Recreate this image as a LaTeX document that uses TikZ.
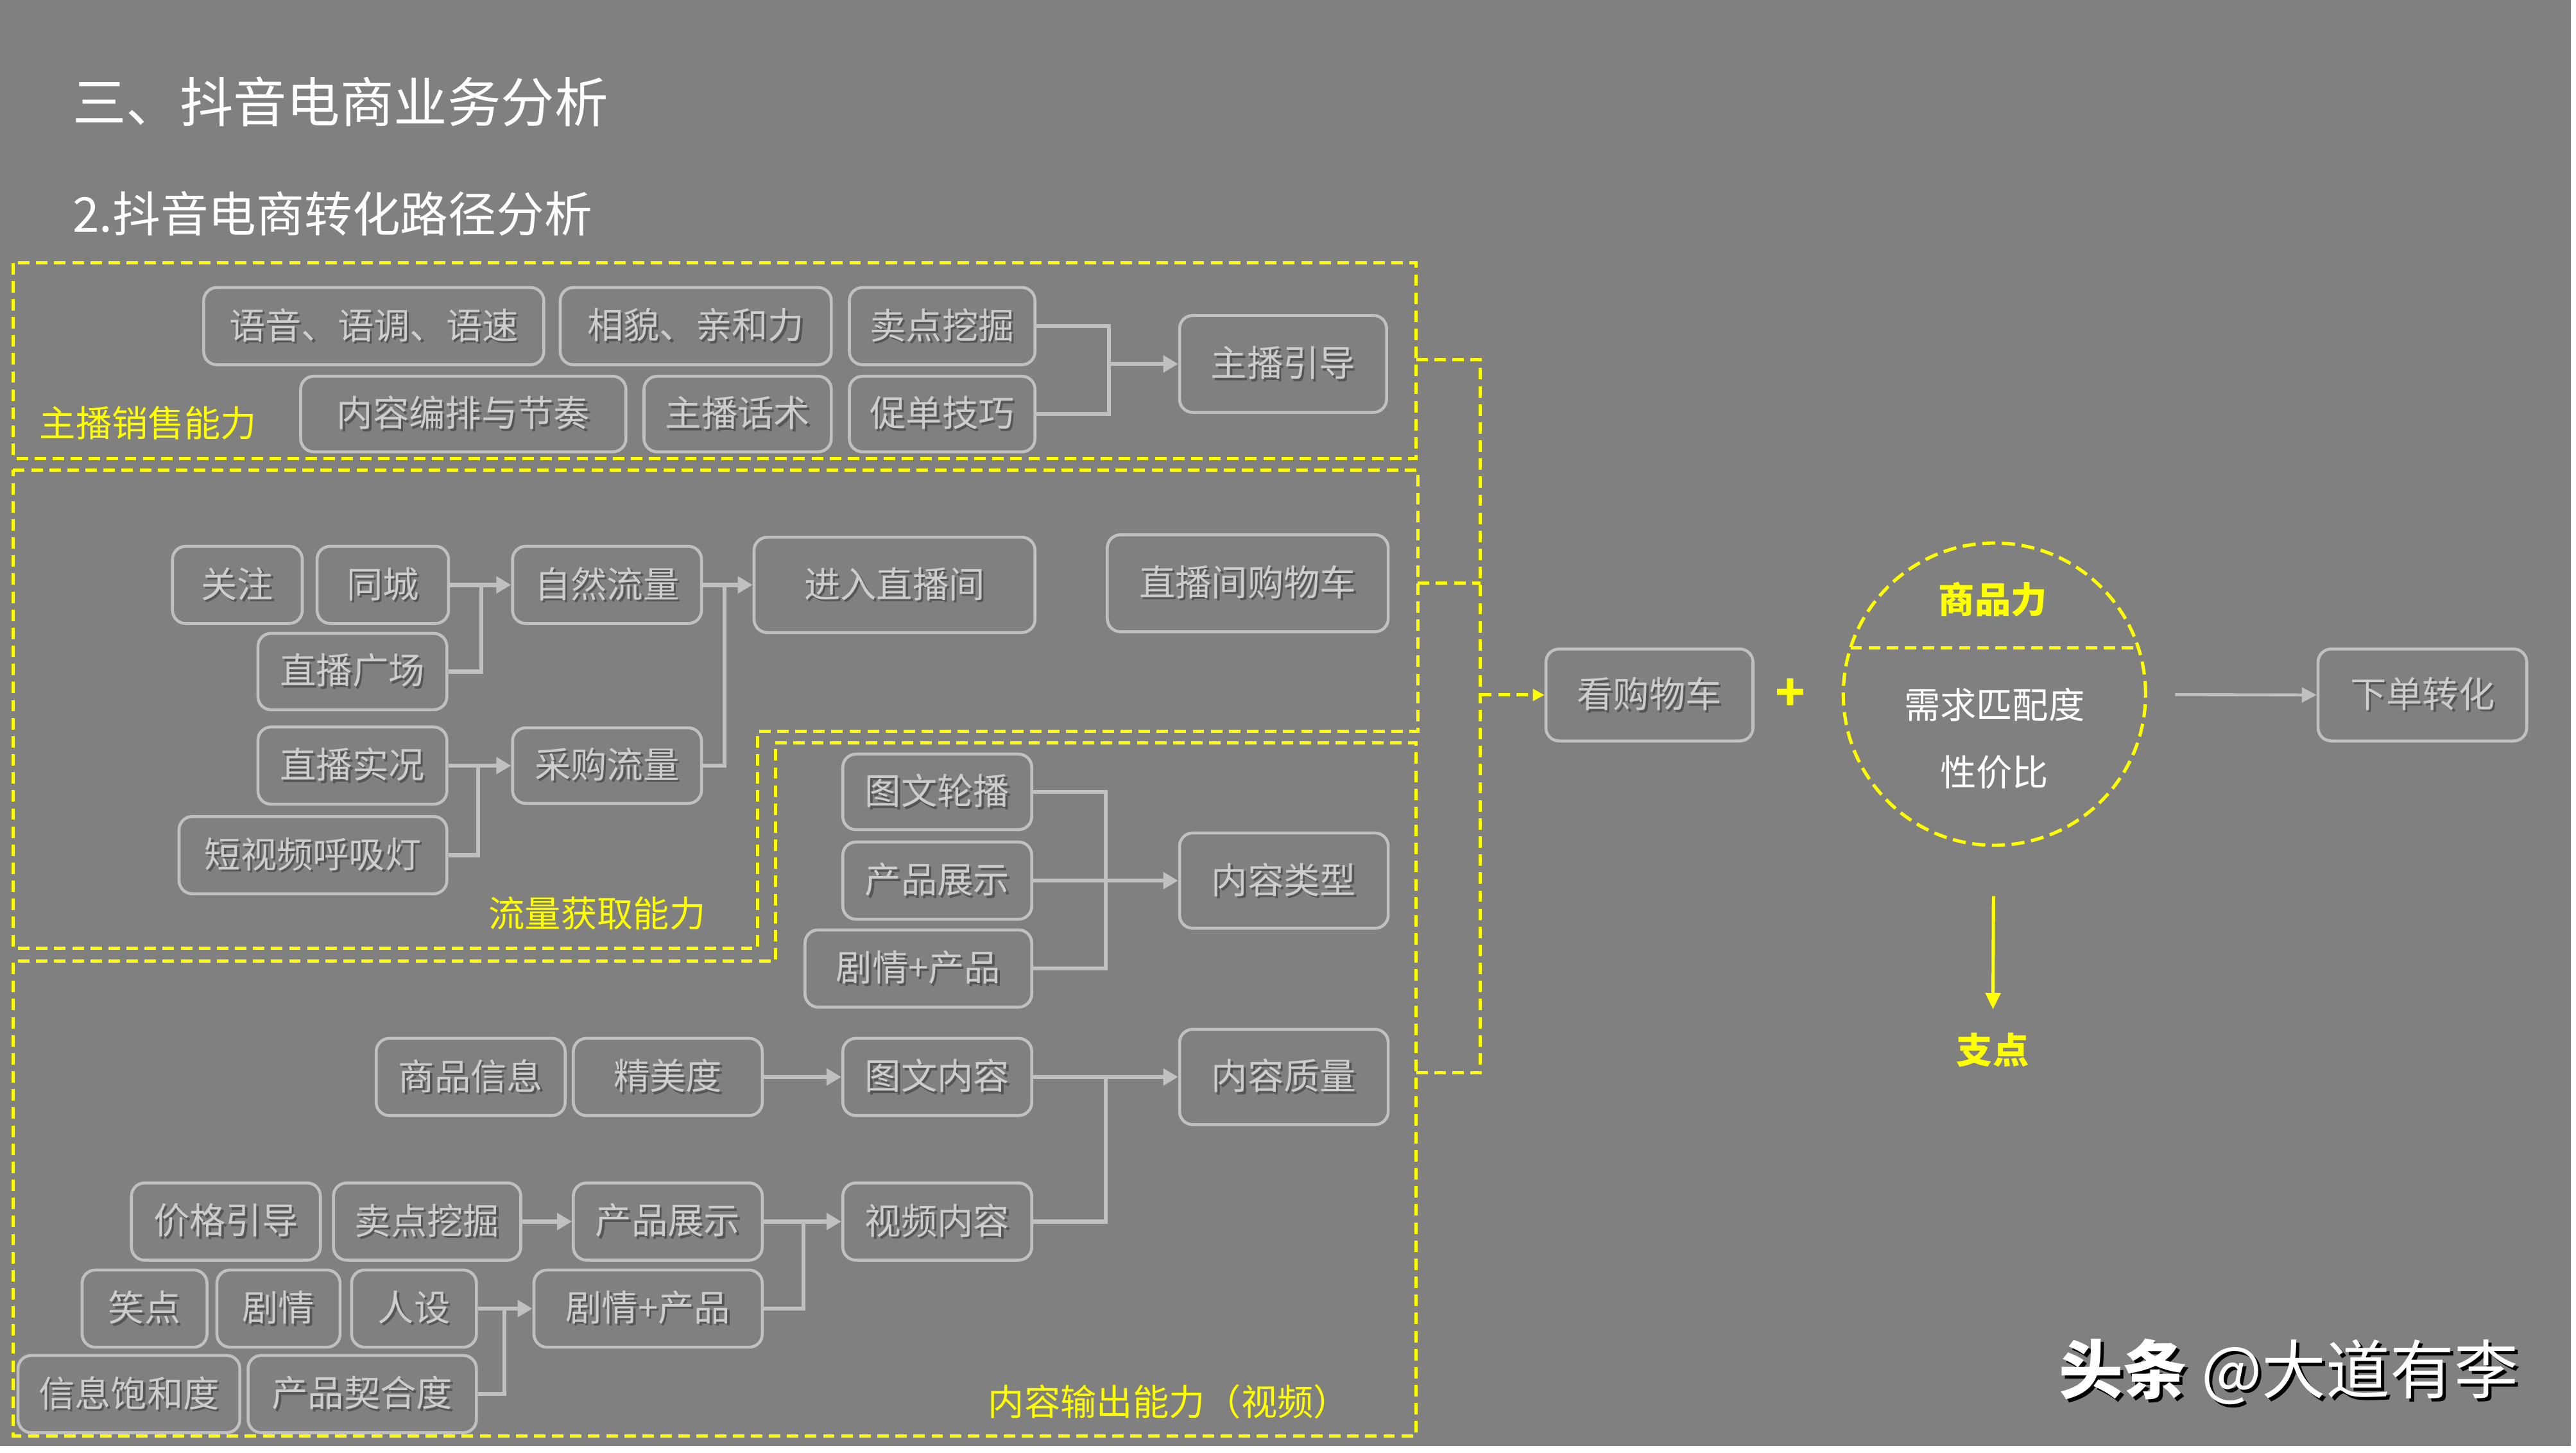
\documentclass[tikz,border=0pt]{standalone}
\usepackage{fontspec}
\setmainfont{Noto Sans CJK SC}
\usetikzlibrary{arrows.meta,calc}
\definecolor{bg}{RGB}{128,128,128}
\definecolor{bd}{RGB}{192,192,192}
\definecolor{tx}{RGB}{205,205,205}
\definecolor{shc}{RGB}{85,85,85}
\definecolor{yl}{RGB}{255,255,0}
\newcommand\shd[1]{\leavevmode\rlap{\kern1.3pt\raisebox{-1.3pt}{\textcolor{shc}{#1}}}#1}
\newcommand\bsh[1]{\leavevmode\rlap{\kern2pt\raisebox{-2pt}{\textcolor{black}{#1}}}{#1}}
\newcommand\mybox[6]{\node[boxst,minimum width=#4pt,minimum height=#5pt] (#1) at (#2,#3) {\shd{#6}};}
\begin{document}
\begin{tikzpicture}[x=1pt,y=-1pt,
  boxst/.style={draw=bd, line width=1.8pt, rounded corners=8pt, fill=bg, text=tx,
    font=\fontsize{22}{26}\selectfont, inner sep=0pt},
  ln/.style={draw=bd, line width=2.5pt},
  arr/.style={ln, -{Triangle[length=9pt,width=10pt]}},
  ydash/.style={draw=yl, line width=2pt, dash pattern=on 7pt off 4pt},
  ylabel/.style={text=yl, font=\fontsize{22}{26}\selectfont, inner sep=0pt},
  ybold/.style={text=yl, font=\fontsize{22}{26}\selectfont\bfseries, inner sep=0pt},
  wtext/.style={text=white, font=\fontsize{22}{26}\selectfont, inner sep=0pt}]
\useasboundingbox (0,0) rectangle (1568,884);
\fill[white] (0,0) rectangle (1568,884);
\fill[bg] (0,0) rectangle (1565,880);

% titles
\node[anchor=west, text=white, font=\fontsize{32.6}{38}\selectfont, inner sep=0pt] (t1) at (44,62) {三、抖音电商业务分析};
\node[anchor=west, text=white, font=\fontsize{29.2}{35}\selectfont, inner sep=0pt] (t2) at (44,130) {2.抖音电商转化路径分析};

% dashed regions
\draw[ydash] (8,160) rectangle (862,279);
\draw[ydash] (8,286) -- (863,286) -- (863,445) -- (461,445) -- (461,577) -- (8,577) -- cycle;
\draw[ydash] (472,452) -- (862,452) -- (862,874) -- (8,874) -- (8,585) -- (472,585) -- cycle;
\node[ylabel, anchor=west] (l1) at (24,257.5) {主播销售能力};
\node[ylabel] (l2) at (363.5,556) {流量获取能力};
\node[ylabel] (l3) at (711.5,853) {内容输出能力（视频）};

% section 1
\mybox{a1}{227.5}{198.5}{207}{47}{语音、语调、语速}
\mybox{a2}{423.5}{198.5}{165}{47}{相貌、亲和力}
\mybox{a3}{573.5}{198.5}{113}{47}{卖点挖掘}
\mybox{a4}{282}{252}{198}{46}{内容编排与节奏}
\mybox{a5}{449}{252}{114}{46}{主播话术}
\mybox{a6}{573.5}{252}{113}{46}{促单技巧}
\mybox{a7}{781}{221.5}{126}{59}{主播引导}
\coordinate (j1) at (675,221.5);
\draw[ln] (a3.east) -| (j1);
\draw[ln] (a6.east) -| (j1);
\draw[arr] (j1) -- (a7.west);

% section 2
\mybox{b1}{144.5}{356}{79}{47}{关注}
\mybox{b2}{233}{356}{80}{47}{同城}
\mybox{b3}{214.5}{408.75}{115}{46.5}{直播广场}
\mybox{b4}{369.5}{356}{115}{47}{自然流量}
\mybox{b5}{544.5}{356}{171}{58}{进入直播间}
\mybox{b6}{759.5}{355}{171}{59}{直播间购物车}
\mybox{b7}{214.5}{466}{115}{47}{直播实况}
\mybox{b8}{369.5}{466}{115}{46}{采购流量}
\mybox{b9}{190.5}{520.5}{163}{47}{短视频呼吸灯}
\coordinate (j2) at (293,356);
\coordinate (j3) at (441,356);
\coordinate (j4) at (291,466);
\draw[ln] (b3.east) -| (j2);
\draw[arr] (b2.east) -- (b4.west);
\draw[ln] (b8.east) -| (j3);
\draw[arr] (b4.east) -- (b5.west);
\draw[ln] (b9.east) -| (j4);
\draw[arr] (b7.east) -- (b8.west);

% section 3
\mybox{c1}{570.5}{482}{115}{46}{图文轮播}
\mybox{c2}{570.5}{536}{115}{47}{产品展示}
\mybox{c3}{559}{589.5}{138}{47}{剧情+产品}
\mybox{c4}{781.5}{536}{127}{58}{内容类型}
\coordinate (j5) at (673,536);
\draw[ln] (c1.east) -| (j5);
\draw[ln] (c3.east) -| (j5);
\draw[arr] (c2.east) -- (c4.west);

\mybox{d1}{286.5}{655.5}{115}{47}{商品信息}
\mybox{d2}{406.5}{655.5}{115}{47}{精美度}
\mybox{d3}{570.5}{655.5}{115}{47}{图文内容}
\mybox{d4}{781.5}{655.5}{127}{58}{内容质量}
\mybox{e1}{137.5}{743.5}{115}{47}{价格引导}
\mybox{e2}{260}{743.5}{114}{47}{卖点挖掘}
\mybox{e3}{406.5}{743.5}{115}{47}{产品展示}
\mybox{e4}{570.5}{743.5}{115}{47}{视频内容}
\mybox{f1}{88}{796.5}{76}{47}{笑点}
\mybox{f2}{169.5}{796.5}{75}{47}{剧情}
\mybox{f3}{252}{796.5}{76}{47}{人设}
\mybox{f4}{394.5}{796.5}{139}{47}{剧情+产品}
\mybox{g1}{78.5}{848.5}{135}{47}{信息饱和度}
\mybox{g2}{220.5}{848.5}{139}{47}{产品契合度}
\coordinate (j6) at (673,655.5);
\coordinate (j7) at (489,743.5);
\coordinate (j8) at (307,796.5);
\draw[arr] (d2.east) -- (d3.west);
\draw[ln] (e4.east) -| (j6);
\draw[arr] (d3.east) -- (d4.west);
\draw[arr] (e2.east) -- (e3.west);
\draw[ln] (f4.east) -| (j7);
\draw[arr] (e3.east) -- (e4.west);
\draw[ln] (g2.east) -| (j8);
\draw[arr] (f3.east) -- (f4.west);

% right side
\mybox{h1}{1004}{423}{126}{56}{看购物车}
\mybox{h2}{1474.5}{423}{127}{56}{下单转化}
\coordinate (r1) at (862,219);
\coordinate (r2) at (863,355);
\coordinate (r3) at (862,653);
\coordinate (jy) at (901,423);
\draw[ydash] (r1) -| (jy);
\draw[ydash] (r3) -| (jy);
\draw[ydash] (r2) -- (r2 -| jy);
\draw[ydash, -{Triangle[length=7pt,width=7pt]}] (jy) -- (h1.west);

\node[text=yl, font=\fontsize{30}{34}\selectfont\bfseries, inner sep=0pt] (plus) at (1090,423) {+};
\node[circle, draw=yl, line width=2pt, dash pattern=on 8pt off 4pt, minimum size=184pt, inner sep=0pt] (ell) at (1214,422.5) {};
\draw[ydash] ([shift={(-87.6,-28)}]ell.center) -- ([shift={(87.6,-28)}]ell.center);
\node[ybold] (sp) at (1213,365) {商品力};
\node[wtext] (xq) at (1214,429) {需求匹配度};
\node[wtext] (xj) at (1214,470) {性价比};
\draw[draw=bd, line width=1.8pt, -{Triangle[length=9pt,width=9pt]}, shorten <=17pt] (ell) -- (h2.west);
\node[ybold] (zd) at (1213,639) {支点};
\draw[draw=yl, line width=2pt, -{Triangle[length=10pt,width=9pt]}, shorten <=30pt, shorten >=14pt] (ell) -- (zd);

% watermark
\node[text=white, font=\fontsize{39}{44}\selectfont, inner sep=0pt, anchor=west] (wm) at (1253,836) {\bsh{\bfseries 头条} \bsh{@大道有李}};
\end{tikzpicture}
\end{document}
